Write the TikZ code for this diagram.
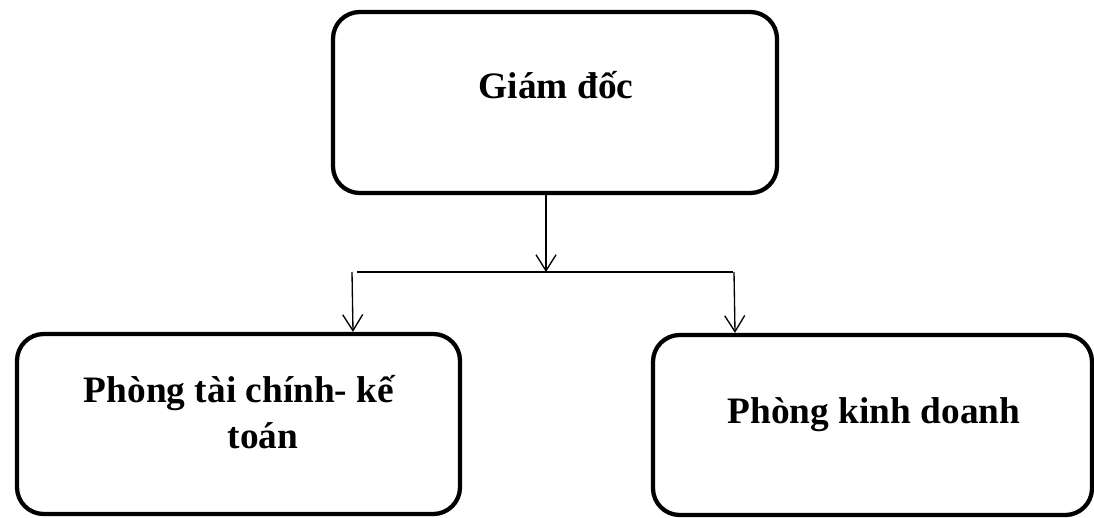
\documentclass[tikz,border=0pt]{standalone}
\usepackage{fontspec}
\setmainfont{Liberation Serif}
\usetikzlibrary{arrows.meta}

\tikzset{
  unitbox/.style={draw=black, line width=3.2pt, rounded corners=20pt,
    rectangle, inner sep=0pt},
  caption/.style={font=\fontsize{28}{34.5}\selectfont\bfseries,
    inner sep=0pt, align=center},
  link/.style={line width=1pt, black},
  linkarrow/.style={link, -{Straight Barb[length=12pt, width=15pt, line width=1pt]}}
}

\begin{document}
\begin{tikzpicture}[x=0.75pt, y=-0.75pt]
  \useasboundingbox (0,0) rectangle (1094,517);

  % boxes
  \node[unitbox, minimum width=333pt, minimum height=135.75pt] (gd) at (555,102.5) {};
  \node[unitbox, minimum width=332.25pt, minimum height=135pt] (tc) at (238.5,424) {};
  \node[unitbox, minimum width=329.25pt, minimum height=135pt] (kd) at (872.5,425) {};

  % captions (the two-line one is placed by the baseline of its last line)
  \node[caption, anchor=base] (gdt) at (556,98) {Giám đốc};
  \node[caption, anchor=base] (tct) at (263,448)
    {Phòng tài chính- kế\hspace*{36pt}\\toán};
  \node[caption, anchor=base] (kdt) at (874,423) {Phòng kinh doanh};

  % branching connectors
  \coordinate (j) at (546,272);
  \coordinate (hl) at (357,272);
  \coordinate (hr) at (733,272);
  \coordinate (la) at (352,272);
  \coordinate (ra) at (734,272);

  \draw[linkarrow] (gd.south -| j) -- (j);
  \draw[link] (hl) -- (hr);
  \draw[linkarrow] (la) -- ([xshift=0.75pt]la |- tc.north);
  \draw[linkarrow] (ra) -- ([xshift=0.75pt]ra |- kd.north);
\end{tikzpicture}
\end{document}
